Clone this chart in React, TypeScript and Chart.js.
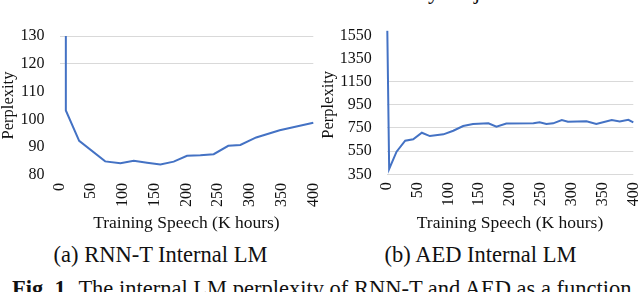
import React, { useEffect, useRef } from 'react';
import { Chart, registerables } from 'chart.js';

Chart.register(...registerables);

const SERIF = '"Liberation Serif", "Times New Roman", Times, serif';

// (a) RNN-T internal LM perplexity vs training speech (K hours)
const rnntHours = [10, 10, 31, 72, 96, 117, 138, 159, 180, 201, 222, 243, 266, 285, 310, 347, 400];
const rnntPerplexity = [131, 103.2, 92.3, 84.9, 84.2, 85.1, 84.4, 83.8, 84.8, 86.9, 87.1, 87.5, 90.5, 90.8, 93.5, 96.1, 98.8];

// (b) AED internal LM perplexity vs training speech (K hours)
const aedHours = [1, 4, 16, 30, 43, 57, 70, 92, 108, 124, 140, 165, 178, 194, 238, 248, 259, 270, 284, 294, 324, 340, 365, 378, 392, 400];
const aedPerplexity = [1590, 396, 545, 640, 652, 709, 680, 695, 726, 767, 784, 790, 761, 788, 790, 799, 784, 790, 819, 804, 807, 784, 819, 807, 821, 799];

const hourTicks = [0, 50, 100, 150, 200, 250, 300, 350, 400];
const rnntTicks = [80, 90, 100, 110, 120, 130];
const rnntGridTicks = [120, 130];
const aedTicks = [350, 550, 750, 950, 1150, 1350, 1550];
const aedGridTicks = [350, 550, 750, 950, 1150];

const xTitle = 'Training Speech (K hours)';
const yTitle = 'Perplexity';

type PanelProps = {
  left: number;
  hours: number[];
  values: number[];
  yTicks: number[];
  gridTicks: number[];
  areaLeft: number;
  areaRight: number;
  areaTop: number;
  areaBottom: number;
  clipTop: number;
};

const CW = 320;
const CH = 240;

function Panel(p: PanelProps) {
  const ref = useRef<HTMLCanvasElement | null>(null);
  useEffect(() => {
    if (!ref.current) return;
    const chart = new Chart(ref.current, {
      type: 'line',
      data: {
        datasets: [
          {
            data: p.hours.map((h, i) => ({ x: h, y: p.values[i] })),
            borderColor: '#4472C4',
            borderWidth: 2,
            pointRadius: 0,
            tension: 0,
            fill: false,
            clip: { left: 2, right: 2, bottom: 2, top: p.clipTop },
          } as any,
        ],
      },
      options: {
        animation: false,
        responsive: false,
        devicePixelRatio: 1,
        layout: { padding: { top: p.areaTop, right: CW - p.areaRight, left: 0, bottom: 0 } },
        plugins: { legend: { display: false }, tooltip: { enabled: false } },
        scales: {
          x: {
            type: 'linear',
            min: 0,
            max: 400,
            afterBuildTicks: (s: any) => {
              s.ticks = hourTicks.map((v) => ({ value: v }));
            },
            afterFit: (s: any) => {
              s.height = CH - p.areaBottom;
              s.paddingLeft = 0;
              s.paddingRight = 0;
            },
            grid: { display: false, drawTicks: false },
            border: { display: false },
            ticks: {
              font: { family: SERIF, size: 16 },
              color: '#111',
              minRotation: 90,
              maxRotation: 90,
              autoSkip: false,
              padding: 8,
              callback: (v: any) => String(v),
            },
            title: {
              display: true,
              text: xTitle,
              color: '#111',
              font: { family: SERIF, size: 17.5, lineHeight: 1 },
              padding: { top: 0, bottom: 8 },
            },
          },
          y: {
            type: 'linear',
            min: p.yTicks[0],
            max: p.yTicks[p.yTicks.length - 1],
            afterBuildTicks: (s: any) => {
              s.ticks = p.yTicks.map((v) => ({ value: v }));
            },
            afterFit: (s: any) => {
              s.width = p.areaLeft;
            },
            grid: {
              drawTicks: false,
              lineWidth: 1,
              color: (ctx: any) =>
                ctx.tick && p.gridTicks.includes(ctx.tick.value) ? '#d9d9d9' : 'rgba(0,0,0,0)',
            },
            border: { display: false },
            ticks: {
              font: { family: SERIF, size: 16 },
              color: '#111',
              padding: 15,
              callback: (v: any) => String(v),
            },
            title: {
              display: true,
              text: yTitle,
              color: '#111',
              font: { family: SERIF, size: 16.5, lineHeight: 1 },
              padding: 0,
            },
          },
        },
      },
    });
    return () => chart.destroy();
  }, []);
  return (
    <canvas
      ref={ref}
      width={CW}
      height={CH}
      style={{ position: 'absolute', left: p.left, top: 0, width: CW, height: CH }}
    />
  );
}

const capStyle: React.CSSProperties = {
  position: 'absolute',
  fontFamily: SERIF,
  fontSize: 22.5,
  lineHeight: 1,
  color: '#111',
  whiteSpace: 'nowrap',
  textAlign: 'center',
};

export default function App() {
  return (
    <div
      style={{
        position: 'fixed',
        left: 0,
        top: 0,
        width: 640,
        height: 292,
        overflow: 'hidden',
        background: '#fff',
      }}
    >
      <span style={{ ...capStyle, left: 428, top: -19 }}>y</span>
      <span style={{ ...capStyle, left: 474, top: -19 }}>j</span>
      <Panel
        left={0}
        hours={rnntHours}
        values={rnntPerplexity}
        yTicks={rnntTicks}
        gridTicks={rnntGridTicks}
        areaLeft={59.5}
        areaRight={313.3}
        areaTop={36}
        areaBottom={175}
        clipTop={0}
      />
      <Panel
        left={320}
        hours={aedHours}
        values={aedPerplexity}
        yTicks={aedTicks}
        gridTicks={aedGridTicks}
        areaLeft={66.7}
        areaRight={313.3}
        areaTop={35.3}
        areaBottom={174.3}
        clipTop={5}
      />
      <div style={{ ...capStyle, left: 0, width: 321, top: 244 }}>(a) RNN-T Internal LM</div>
      <div style={{ ...capStyle, left: 320, width: 321, top: 244 }}>(b) AED Internal LM</div>
      <div style={{ ...capStyle, left: 12, top: 278, textAlign: 'left' }}>
        <b>Fig. 1.</b>
        <span style={{ marginLeft: 7 }}>The internal LM perplexity of RNN-T and AED as a function</span>
      </div>
    </div>
  );
}
